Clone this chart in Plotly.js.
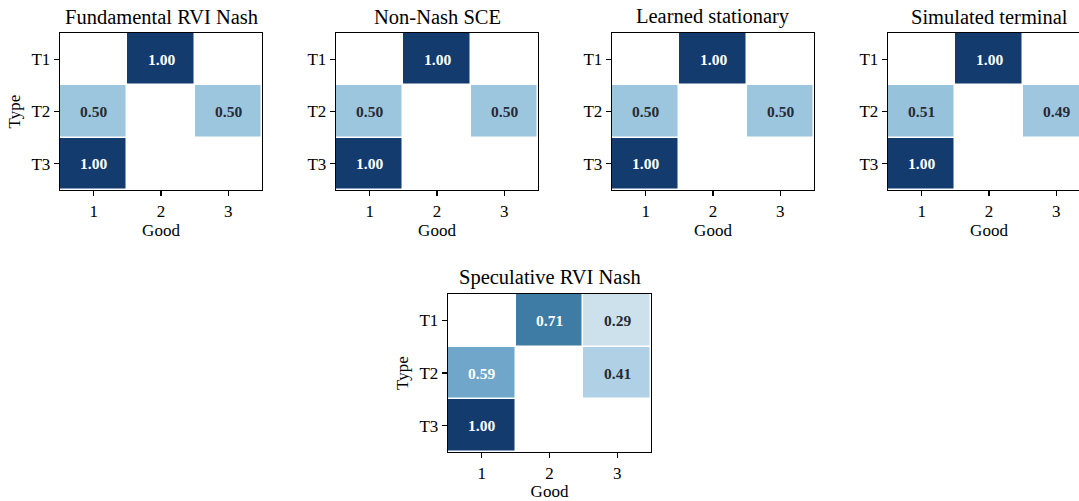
<!DOCTYPE html>
<html>
<head>
<meta charset="utf-8">
<script src="https://cdn.plot.ly/plotly-3.0.1.min.js"></script>
<style>
html,body{margin:0;padding:0;overflow:hidden;background:#fff;}
#chart{width:1100px;height:501px;}
</style>
</head>
<body>
<div id="chart"></div>
<script>
// ---- data ----
const goods = ['1', '2', '3'];
const types = ['T1', 'T2', 'T3'];
const panelTitles = ['Fundamental RVI Nash', 'Non-Nash SCE', 'Learned stationary', 'Simulated terminal', 'Speculative RVI Nash'];
const fundamentalRVINash = [[0, 1.00, 0], [0.50, 0, 0.50], [1.00, 0, 0]];
const nonNashSCE = [[0, 1.00, 0], [0.50, 0, 0.50], [1.00, 0, 0]];
const learnedStationary = [[0, 1.00, 0], [0.50, 0, 0.50], [1.00, 0, 0]];
const simulatedTerminal = [[0, 1.00, 0], [0.51, 0, 0.49], [1.00, 0, 0]];
const speculativeRVINash = [[0, 0.71, 0.29], [0.59, 0, 0.41], [1.00, 0, 0]];
const matrices = [fundamentalRVINash, nonNashSCE, learnedStationary, simulatedTerminal, speculativeRVINash];

// ---- layout geometry (pixels) ----
const W = 1100, H = 501;
const boxes = [
  {x0: 60, x1: 262, y0: 33, y1: 190, ytitle: true},
  {x0: 336, x1: 538, y0: 33, y1: 190, ytitle: false},
  {x0: 612, x1: 814, y0: 33, y1: 190, ytitle: false},
  {x0: 888, x1: 1090, y0: 33, y1: 190, ytitle: false},
  {x0: 448, x1: 651, y0: 294, y1: 452, ytitle: true}
];

const colorscale = [
  [0, '#f7fbff'], [0.29, '#cde1ed'], [0.41, '#afd0e5'], [0.5, '#9cc5de'],
  [0.59, '#70a6c9'], [0.71, '#3e7ba5'], [1, '#143b6e']
];
const FONT = 'Liberation Serif, Times New Roman, serif';

const data = [];
const layout = {
  width: W, height: H,
  margin: {l: 0, r: 0, t: 0, b: 0},
  paper_bgcolor: '#fff', plot_bgcolor: '#fff',
  showlegend: false,
  font: {family: FONT, color: '#000', size: 17},
  annotations: []
};

matrices.forEach((m, i) => {
  const k = i + 1;
  const xa = 'x' + (k === 1 ? '' : k), ya = 'y' + (k === 1 ? '' : k);
  const xkey = 'xaxis' + (k === 1 ? '' : k), ykey = 'yaxis' + (k === 1 ? '' : k);
  const b = boxes[i];
  data.push({
    type: 'heatmap',
    x: goods, y: types,
    z: m.map(r => r.map(v => v === 0 ? null : v)),
    zmin: 0, zmax: 1,
    colorscale: colorscale,
    showscale: false,
    xgap: 1.5, ygap: 1.5,
    hoverinfo: 'skip',
    xaxis: xa, yaxis: ya
  });
  const axCommon = {
    showline: true, mirror: true, linecolor: '#000', linewidth: 1.3,
    ticks: 'outside', ticklen: 5, tickwidth: 1.2, tickcolor: '#000',
    showgrid: false, zeroline: false, fixedrange: true,
    tickfont: {family: FONT, size: 17, color: '#000'}
  };
  layout[xkey] = Object.assign({}, axCommon, {
    domain: [b.x0 / W, b.x1 / W],
    anchor: ya, type: 'category',
    range: [-0.5, 2.5],
    title: {text: 'Good', font: {family: FONT, size: 17, color: '#000'}, standoff: 0}
  });
  layout[ykey] = Object.assign({}, axCommon, {
    domain: [1 - b.y1 / H, 1 - b.y0 / H],
    anchor: xa, type: 'category',
    range: [2.5, -0.5],
    title: b.ytitle ? {text: 'Type', font: {family: FONT, size: 17, color: '#000'}, standoff: 6} : {text: ''}
  });
  // panel title
  layout.annotations.push({
    text: panelTitles[i], xref: 'paper', yref: 'paper',
    x: (b.x0 + b.x1) / 2 / W, y: 1 - (b.y0 - 3) / H,
    xanchor: 'center', yanchor: 'bottom', showarrow: false,
    font: {family: FONT, size: 20.5, color: '#000'}
  });
  // cell labels (category index positions)
  m.forEach((row, r) => row.forEach((v, c) => {
    if (v === 0) return;
    layout.annotations.push({
      text: '<b>' + v.toFixed(2) + '</b>', xref: xa, yref: ya,
      x: c, y: r, showarrow: false,
      font: {family: FONT, size: 15.5, color: v > 0.55 ? '#ffffff' : '#262b35'}
    });
  }));
});

Plotly.newPlot('chart', data, layout, {displayModeBar: false, staticPlot: true});
</script>
</body>
</html>
